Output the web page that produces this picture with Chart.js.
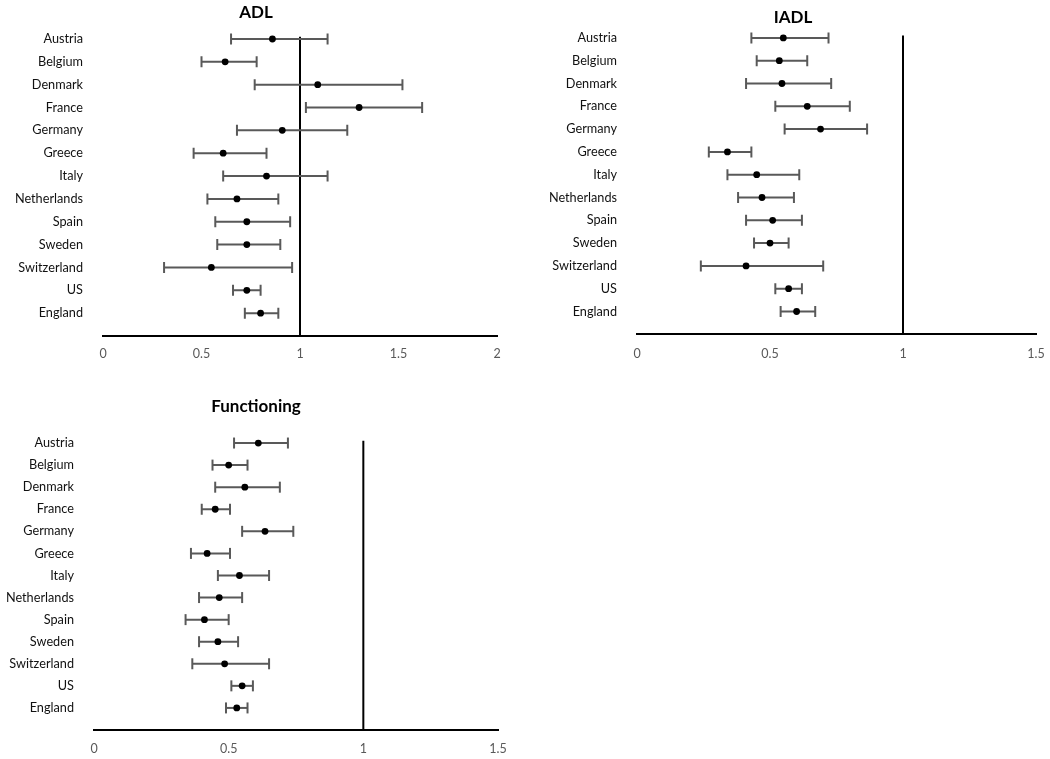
<!DOCTYPE html>
<html>
<head>
<meta charset="utf-8">
<script src="https://cdn.jsdelivr.net/npm/chart.js@4.4.1/dist/chart.umd.min.js"></script>
<style>
  body { margin: 0; background: #fff; width: 1050px; height: 759px; overflow: hidden; position: relative; }
  .box { position: absolute; }
</style>
</head>
<body>
<div class="box" style="left:0;top:0"><canvas id="adl" width="520" height="370"></canvas></div>
<div class="box" style="left:540px;top:0"><canvas id="iadl" width="510" height="370"></canvas></div>
<div class="box" style="left:0;top:380px"><canvas id="func" width="520" height="379"></canvas></div>
<script>
const countries = ["Austria", "Belgium", "Denmark", "France", "Germany", "Greece", "Italy",
  "Netherlands", "Spain", "Sweden", "Switzerland", "US", "England"];

// ADL
const adlEst  = [0.86, 0.62, 1.09, 1.30, 0.91, 0.61, 0.83, 0.68, 0.73, 0.73, 0.55, 0.73, 0.80];
const adlLow  = [0.65, 0.50, 0.77, 1.03, 0.68, 0.46, 0.61, 0.53, 0.57, 0.58, 0.31, 0.66, 0.72];
const adlHigh = [1.14, 0.78, 1.52, 1.62, 1.24, 0.83, 1.14, 0.89, 0.95, 0.90, 0.96, 0.80, 0.89];

// IADL
const iadlEst  = [0.55, 0.535, 0.545, 0.64, 0.69, 0.34, 0.45, 0.47, 0.51, 0.50, 0.41, 0.57, 0.60];
const iadlLow  = [0.43, 0.45, 0.41, 0.52, 0.555, 0.27, 0.34, 0.38, 0.41, 0.44, 0.24, 0.52, 0.54];
const iadlHigh = [0.72, 0.64, 0.73, 0.80, 0.865, 0.43, 0.61, 0.59, 0.62, 0.57, 0.70, 0.62, 0.67];

// Functioning
const funcEst  = [0.61, 0.50, 0.56, 0.45, 0.635, 0.42, 0.54, 0.465, 0.41, 0.46, 0.485, 0.55, 0.53];
const funcLow  = [0.52, 0.44, 0.45, 0.40, 0.55, 0.36, 0.46, 0.39, 0.34, 0.39, 0.365, 0.51, 0.49];
const funcHigh = [0.72, 0.57, 0.69, 0.505, 0.74, 0.505, 0.65, 0.55, 0.50, 0.535, 0.65, 0.59, 0.57];

const xMaxAdl = 2;
const xMaxOther = 1.5;

const FONT = "Lato, 'Open Sans', sans-serif";

function makeChart(id, title, est, low, high, xMax, lay) {
  const datasets = [];
  // points on top
  datasets.push({
    type: "scatter",
    data: est.map((v, i) => ({ x: v, y: i })),
    pointRadius: 3.4,
    pointBackgroundColor: "#000",
    pointBorderColor: "#000",
    borderWidth: 0
  });
  // error bars with caps
  countries.forEach((c, i) => {
    datasets.push({
      type: "line",
      data: [{ x: low[i], y: i }, { x: high[i], y: i }],
      borderColor: "#595959",
      borderWidth: 2,
      pointStyle: "line",
      pointRadius: 5.5,
      pointRotation: 90,
      pointBorderColor: "#595959",
      pointBorderWidth: 2
    });
  });
  // reference line at 1
  datasets.push({
    type: "line",
    data: [{ x: 1, y: -0.1 }, { x: 1, y: countries.length }],
    borderColor: "#000",
    borderWidth: 2,
    pointRadius: 0
  });

  return new Chart(document.getElementById(id), {
    data: { datasets },
    options: {
      responsive: false,
      animation: false,
      events: [],
      layout: { padding: { left: 0, top: 0, bottom: 0, right: lay.padRight } },
      plugins: {
        legend: { display: false },
        tooltip: { enabled: false },
        title: {
          display: true,
          text: title,
          color: "#000",
          font: { family: FONT, size: 17, weight: "bold" },
          padding: lay.titlePad
        }
      },
      scales: {
        x: {
          type: "linear",
          min: 0,
          max: xMax,
          // tick marks hidden, tickLength only pushes the labels down
          grid: { display: false, drawTicks: true, tickLength: lay.xPad - 4 },
          border: { display: true, color: "#000", width: 2 },
          ticks: {
            stepSize: 0.5,
            color: "#595959",
            padding: 4,
            font: { family: FONT, size: 12.5 },
            callback: (v) => String(v)
          },
          afterFit: (s) => { s.height = lay.xHeight; }
        },
        y: {
          type: "linear",
          reverse: true,
          min: -0.45,
          max: countries.length,
          grid: { display: false, drawTicks: false },
          border: { display: false },
          afterBuildTicks: (s) => { s.ticks = countries.map((c, i) => ({ value: i })); },
          ticks: {
            autoSkip: false,
            color: "#111",
            padding: 20,
            font: { family: FONT, size: 12.7 },
            callback: (v) => countries[v]
          },
          afterFit: (s) => { s.width = lay.yWidth; }
        },
        // empty spacer on the right so the title centres like the original
        spacer: {
          type: "linear",
          position: "right",
          grid: { display: false, drawTicks: false },
          border: { display: false },
          ticks: { display: false },
          afterFit: (s) => { s.width = lay.rightGap; }
        }
      }
    }
  });
}

makeChart("adl", "ADL", adlEst, adlLow, adlHigh, xMaxAdl, {
  padRight: 8, rightGap: 15, yWidth: 103, xHeight: 34, xPad: 10,
  titlePad: { top: 2.8, bottom: 5.5 }
});
makeChart("iadl", "IADL", iadlEst, iadlLow, iadlHigh, xMaxOther, {
  padRight: 4, rightGap: 10, yWidth: 97, xHeight: 35.7, xPad: 12,
  titlePad: { top: 4.8, bottom: 0.2 }
});
makeChart("func", "Functioning", funcEst, funcLow, funcHigh, xMaxOther, {
  padRight: 8, rightGap: 14, yWidth: 94, xHeight: 29, xPad: 11,
  titlePad: { top: 16.8, bottom: 15.9 }
});
</script>
</body>
</html>
